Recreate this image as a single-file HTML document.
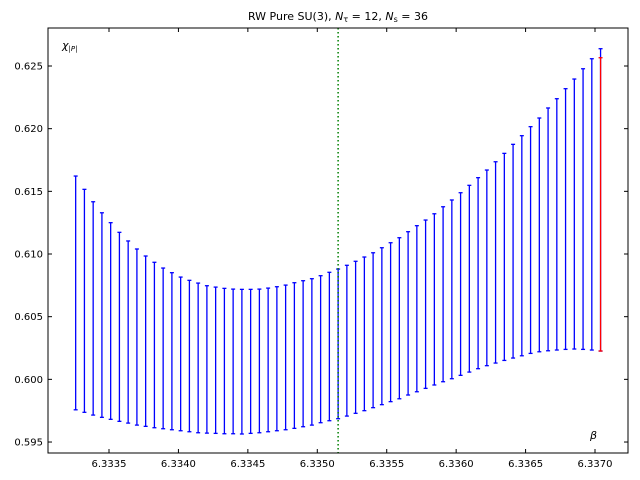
<!DOCTYPE html>
<html><head><meta charset="utf-8"><style>
html,body{margin:0;padding:0;background:#fff;}
svg{display:block;font-family:"DejaVu Sans","Liberation Sans",sans-serif;}
</style></head><body>
<svg id="chart" width="640" height="480" xmlns="http://www.w3.org/2000/svg">
<rect x="0" y="0" width="640" height="480" fill="#fff"/>
<text x="338" y="20" font-size="11" text-anchor="middle">RW Pure SU(3), <tspan font-style="italic">N</tspan><tspan font-size="8" dy="2">τ</tspan><tspan dy="-2"> = 12, </tspan><tspan font-style="italic">N</tspan><tspan font-size="8" dy="2">s</tspan><tspan dy="-2"> = 36</tspan></text>
<text x="62" y="49" font-size="11" font-style="italic">χ<tspan font-size="7" dy="2">|P|</tspan></text>
<text x="590" y="439" font-size="11" font-style="italic">β</text>
<g id="marks"></g>
<g id="axes"></g>
</svg>
<script>
const betas=[];
const lows=[0.59757,0.59737,0.59715,0.59697,0.59681,0.59665,0.59651,0.59635,0.59625,0.59614,0.59606,0.59598,0.59590,0.59582,0.59574,0.59571,0.59569,0.59566,0.59566,0.59564,0.59569,0.59574,0.59582,0.59590,0.59598,0.59609,0.59622,0.59635,0.59654,0.59670,0.59686,0.59707,0.59729,0.59750,0.59774,0.59798,0.59822,0.59845,0.59875,0.59901,0.59928,0.59955,0.59981,0.60005,0.60032,0.60058,0.60085,0.60109,0.60130,0.60151,0.60170,0.60188,0.60207,0.60220,0.60228,0.60234,0.60239,0.60242,0.60239,0.60234,0.60226];
const highs=[0.61622,0.61516,0.61417,0.61329,0.61250,0.61173,0.61104,0.61040,0.60984,0.60934,0.60888,0.60851,0.60816,0.60790,0.60768,0.60747,0.60736,0.60726,0.60720,0.60718,0.60718,0.60720,0.60728,0.60739,0.60752,0.60771,0.60787,0.60803,0.60827,0.60854,0.60880,0.60910,0.60942,0.60976,0.61010,0.61050,0.61090,0.61130,0.61178,0.61226,0.61271,0.61321,0.61377,0.61431,0.61489,0.61548,0.61609,0.61670,0.61736,0.61803,0.61875,0.61944,0.62016,0.62085,0.62165,0.62239,0.62319,0.62396,0.62478,0.62558,0.62638];
const betaStart=6.33326, betaStep=0.0000630;
for(let i=0;i<lows.length;i++) betas.push(+(betaStart+i*betaStep).toFixed(7));
const redBeta=6.33704, redLow=0.60226, redHigh=0.62566;
const vline=6.33515;
const xTicks=[6.3335,6.3340,6.3345,6.3350,6.3355,6.3360,6.3365,6.3370];
const yTicks=[0.595,0.600,0.605,0.610,0.615,0.620,0.625];

const L=48,R=628,T=28,B=453;
const X=b=>109+(b-6.3335)/0.0005*69.43;
const Y=v=>66+(0.625-v)/0.005*62.67;
const NS="http://www.w3.org/2000/svg";
const marks=document.getElementById('marks'), axes=document.getElementById('axes');
function mk(tag,attrs,parent){const e=document.createElementNS(NS,tag);for(const k in attrs)e.setAttribute(k,attrs[k]);parent.appendChild(e);return e;}
function errbar(b,lo,hi,col,name){
  const g=mk('g',{},marks);
  
  
  const x=X(b),y1=Y(hi),y2=Y(lo);
  mk('line',{x1:x,x2:x,y1:y1,y2:y2,stroke:col,'stroke-width':1.3},g);
  mk('line',{x1:x-2,x2:x+2,y1:y1,y2:y1,stroke:col,'stroke-width':1.3},g);
  mk('line',{x1:x-2,x2:x+2,y1:y2,y2:y2,stroke:col,'stroke-width':1.3},g);
}
for(let i=0;i<betas.length;i++) errbar(betas[i],lows[i],highs[i],'#0000ff','error-bar');
errbar(redBeta,redLow,redHigh,'#ff0000','error-bar-highlight');
const vl=mk('line',{x1:X(vline),x2:X(vline),y1:T,y2:B,stroke:'#008000','stroke-width':1.5,'stroke-dasharray':'1.5,2.5'},marks);


const frame=mk('rect',{x:L,y:T,width:R-L,height:B-T,fill:'none',stroke:'#000','stroke-width':1},axes);


xTicks.forEach(t=>{const x=X(t);
  mk('line',{x1:x,x2:x,y1:B,y2:B-4,stroke:'#000'},axes);
  mk('line',{x1:x,x2:x,y1:T,y2:T+4,stroke:'#000'},axes);
  const tx=mk('text',{x:x,y:B+14,'font-size':10,'text-anchor':'middle'},axes);
  
  
  tx.textContent=t.toFixed(4);});
yTicks.forEach(t=>{const y=Y(t);
  mk('line',{x1:L,x2:L+4,y1:y,y2:y,stroke:'#000'},axes);
  mk('line',{x1:R,x2:R-4,y1:y,y2:y,stroke:'#000'},axes);
  const tx=mk('text',{x:L-5,y:y+3.5,'font-size':10,'text-anchor':'end'},axes);
  
  
  tx.textContent=t.toFixed(3);});
</script>
</body></html>
